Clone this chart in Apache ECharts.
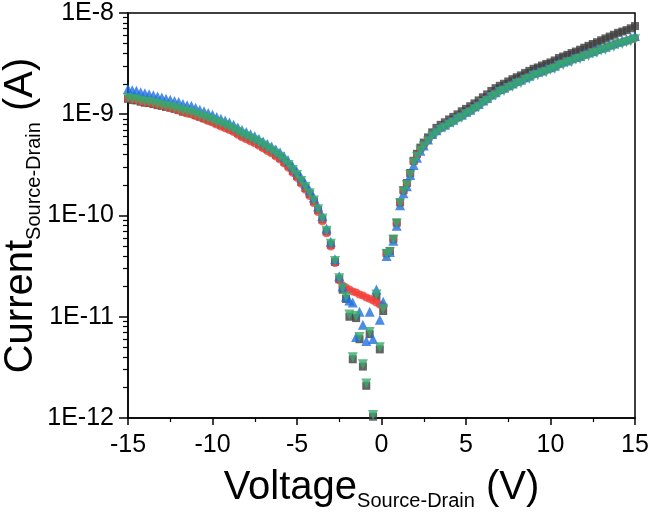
<!DOCTYPE html>
<html>
<head>
<meta charset="utf-8">
<script src="https://cdn.jsdelivr.net/npm/echarts@6/dist/echarts.min.js"></script>
<style>
html,body{margin:0;padding:0;background:#fff;}
#chart{width:650px;height:512px;}
</style>
</head>
<body>
<div id="chart"></div>
<script>
// Source-drain voltage sweep (V)
const voltage = [
-15,-14.75,-14.5,-14.25,-14,-13.75,-13.5,-13.25,-13,-12.75,-12.5,-12.25,-12,-11.75,-11.5,-11.25,-11,-10.75,-10.5,-10.25,
-10,-9.75,-9.5,-9.25,-9,-8.75,-8.5,-8.25,-8,-7.75,-7.5,-7.25,-7,-6.75,-6.5,-6.25,-6,-5.75,-5.5,-5.25,
-5,-4.75,-4.5,-4.25,-4,-3.75,-3.5,-3.25,-3,-2.75,
-2.5,-2.3,-2.1,-1.9,-1.7,-1.5,-1.3,-1.1,-0.9,-0.7,-0.5,-0.3,-0.1,0.1,0.3,0.5,0.7,0.9,1.1,1.3,1.5,1.7,1.9,2.1,2.3,2.5,
2.75,3,3.25,3.5,3.75,4,4.25,4.5,4.75,5,5.25,5.5,5.75,6,6.25,6.5,6.75,7,7.25,7.5,
7.75,8,8.25,8.5,8.75,9,9.25,9.5,9.75,10,10.25,10.5,10.75,11,11.25,11.5,11.75,12,12.25,12.5,
12.75,13,13.25,13.5,13.75,14,14.25,14.5,14.75,15
];

// Current (A) — black squares
const blackI = [
1.42e-9,1.38e-9,1.37e-9,1.33e-9,1.30e-9,1.29e-9,1.26e-9,1.23e-9,1.21e-9,1.18e-9,1.16e-9,1.13e-9,1.10e-9,1.06e-9,1.04e-9,1.02e-9,9.80e-10,9.47e-10,9.14e-10,8.84e-10,
8.54e-10,8.15e-10,7.88e-10,7.60e-10,7.26e-10,6.94e-10,6.55e-10,6.18e-10,5.91e-10,5.64e-10,5.39e-10,5.09e-10,4.80e-10,4.53e-10,4.28e-10,3.99e-10,3.72e-10,3.40e-10,3.10e-10,2.76e-10,
2.46e-10,2.15e-10,1.87e-10,1.63e-10,1.38e-10,1.13e-10,9.14e-11,6.94e-11,5.15e-11,3.48e-11,
2.35e-11,1.85e-11,1.50e-11,1.00e-11,3.80e-12,9.70e-12,6.00e-12,3.22e-12,2.08e-12,6.73e-12,1.03e-12,1.58e-11,4.76e-12,1.14e-11,4.27e-11,4.47e-11,5.89e-11,8.51e-11,1.35e-10,1.78e-10,2.09e-10,2.63e-10,3.47e-10,4.07e-10,4.68e-10,5.25e-10,
5.91e-10,6.63e-10,7.34e-10,7.86e-10,8.33e-10,8.89e-10,9.42e-10,9.98e-10,1.07e-9,1.13e-9,1.20e-9,1.28e-9,1.37e-9,1.47e-9,1.57e-9,1.70e-9,1.81e-9,1.91e-9,2.00e-9,2.11e-9,
2.22e-9,2.32e-9,2.42e-9,2.56e-9,2.68e-9,2.81e-9,2.90e-9,3.03e-9,3.14e-9,3.25e-9,3.40e-9,3.59e-9,3.72e-9,3.86e-9,4.02e-9,4.16e-9,4.34e-9,4.54e-9,4.74e-9,4.94e-9,
5.15e-9,5.38e-9,5.61e-9,5.85e-9,6.10e-9,6.37e-9,6.56e-9,6.77e-9,7.06e-9,7.43e-9
];

// Current (A) — red circles
const redI = [
1.44e-9,1.40e-9,1.38e-9,1.34e-9,1.31e-9,1.30e-9,1.27e-9,1.24e-9,1.21e-9,1.18e-9,1.15e-9,1.12e-9,1.09e-9,1.05e-9,1.02e-9,9.99e-10,9.60e-10,9.27e-10,8.96e-10,8.57e-10,
8.27e-10,7.90e-10,7.56e-10,7.29e-10,6.97e-10,6.66e-10,6.28e-10,5.93e-10,5.67e-10,5.41e-10,5.17e-10,4.88e-10,4.61e-10,4.34e-10,4.11e-10,3.83e-10,3.57e-10,3.26e-10,2.97e-10,2.65e-10,
2.36e-10,2.06e-10,1.80e-10,1.56e-10,1.33e-10,1.08e-10,8.77e-11,6.66e-11,4.94e-11,3.40e-11,
2.29e-11,2.04e-11,1.93e-11,1.86e-11,1.78e-11,1.74e-11,1.66e-11,1.62e-11,1.55e-11,1.51e-11,1.45e-11,1.38e-11,1.32e-11,1.26e-11,4.17e-11,4.47e-11,5.75e-11,8.32e-11,1.32e-10,1.74e-10,2.04e-10,2.57e-10,3.39e-10,3.89e-10,4.47e-10,4.90e-10,
5.53e-10,6.21e-10,6.81e-10,7.29e-10,7.73e-10,8.18e-10,8.66e-10,9.18e-10,9.72e-10,1.03e-9,1.09e-9,1.15e-9,1.24e-9,1.33e-9,1.42e-9,1.52e-9,1.62e-9,1.71e-9,1.79e-9,1.87e-9,
1.97e-9,2.06e-9,2.15e-9,2.26e-9,2.36e-9,2.47e-9,2.55e-9,2.65e-9,2.74e-9,2.83e-9,2.97e-9,3.11e-9,3.22e-9,3.34e-9,3.45e-9,3.57e-9,3.70e-9,3.83e-9,3.97e-9,4.10e-9,
4.24e-9,4.40e-9,4.55e-9,4.71e-9,4.87e-9,5.05e-9,5.16e-9,5.28e-9,5.47e-9,5.67e-9
];

// Current (A) — blue triangles
const blueI = [
1.78e-9,1.73e-9,1.71e-9,1.65e-9,1.61e-9,1.58e-9,1.54e-9,1.50e-9,1.46e-9,1.42e-9,1.39e-9,1.35e-9,1.32e-9,1.26e-9,1.23e-9,1.21e-9,1.16e-9,1.11e-9,1.07e-9,1.03e-9,
9.89e-10,9.40e-10,9.05e-10,8.69e-10,8.30e-10,7.89e-10,7.41e-10,7.00e-10,6.66e-10,6.35e-10,6.05e-10,5.71e-10,5.39e-10,5.08e-10,4.81e-10,4.48e-10,4.18e-10,3.80e-10,3.44e-10,3.07e-10,
2.72e-10,2.37e-10,2.06e-10,1.78e-10,1.51e-10,1.23e-10,9.89e-11,7.43e-11,5.51e-11,3.69e-11,
2.51e-11,2.00e-11,1.58e-11,1.45e-11,1.38e-11,6.31e-12,1.12e-11,8.32e-12,5.75e-12,1.12e-11,6.03e-12,1.86e-11,9.33e-12,1.41e-11,3.98e-11,4.37e-11,5.62e-11,7.94e-11,1.26e-10,1.66e-10,1.95e-10,2.51e-10,3.16e-10,3.72e-10,4.37e-10,4.90e-10,
5.64e-10,6.39e-10,6.94e-10,7.58e-10,7.88e-10,8.42e-10,8.83e-10,9.53e-10,9.91e-10,1.06e-9,1.11e-9,1.20e-9,1.26e-9,1.37e-9,1.45e-9,1.57e-9,1.65e-9,1.78e-9,1.83e-9,1.93e-9,
2.01e-9,2.14e-9,2.19e-9,2.32e-9,2.40e-9,2.57e-9,2.63e-9,2.70e-9,2.85e-9,2.92e-9,3.02e-9,3.23e-9,3.32e-9,3.40e-9,3.58e-9,3.68e-9,3.77e-9,3.98e-9,4.08e-9,4.18e-9,
4.41e-9,4.53e-9,4.64e-9,4.89e-9,5.01e-9,5.19e-9,5.36e-9,5.49e-9,5.73e-9,5.94e-9
];

// Current (A) — green inverted triangles
const greenI = [
1.45e-9,1.41e-9,1.40e-9,1.36e-9,1.33e-9,1.32e-9,1.29e-9,1.26e-9,1.23e-9,1.20e-9,1.18e-9,1.15e-9,1.12e-9,1.08e-9,1.06e-9,1.04e-9,1.00e-9,9.66e-10,9.33e-10,9.02e-10,
8.71e-10,8.32e-10,8.04e-10,7.76e-10,7.41e-10,7.08e-10,6.68e-10,6.31e-10,6.03e-10,5.75e-10,5.50e-10,5.19e-10,4.90e-10,4.62e-10,4.37e-10,4.07e-10,3.80e-10,3.47e-10,3.16e-10,2.82e-10,
2.51e-10,2.19e-10,1.91e-10,1.66e-10,1.41e-10,1.15e-10,9.33e-11,7.08e-11,5.25e-11,3.55e-11,
2.40e-11,1.91e-11,1.58e-11,1.05e-11,3.98e-12,1.02e-11,6.31e-12,3.39e-12,2.19e-12,7.08e-12,1.07e-12,1.66e-11,5.01e-12,1.20e-11,4.17e-11,4.37e-11,5.75e-11,8.32e-11,1.32e-10,1.74e-10,2.00e-10,2.51e-10,3.31e-10,3.80e-10,4.37e-10,4.79e-10,
5.37e-10,6.03e-10,6.50e-10,7.08e-10,7.35e-10,7.94e-10,8.25e-10,8.91e-10,9.25e-10,1.00e-9,1.04e-9,1.12e-9,1.17e-9,1.29e-9,1.35e-9,1.48e-9,1.53e-9,1.66e-9,1.70e-9,1.82e-9,
1.87e-9,2.00e-9,2.04e-9,2.19e-9,2.24e-9,2.40e-9,2.43e-9,2.57e-9,2.60e-9,2.75e-9,2.82e-9,3.02e-9,3.07e-9,3.24e-9,3.28e-9,3.47e-9,3.52e-9,3.72e-9,3.77e-9,3.98e-9,
4.04e-9,4.27e-9,4.33e-9,4.57e-9,4.64e-9,4.90e-9,4.95e-9,5.13e-9,5.25e-9,5.50e-9
];

// Axis ticks
const xMin = -15, xMax = 15, xStep = 5;
const yTickLabels = ['1E-12','1E-11','1E-10','1E-9','1E-8'];
const yDecades = [-12,-11,-10,-9];
const yMinorMultipliers = [2,3,4,5,6,7,8,9];

const FONT = 'Liberation Sans, Arial, sans-serif';
const minorTickPos = [];
yDecades.forEach(d => yMinorMultipliers.forEach(m => minorTickPos.push(d + Math.log10(m))));

const pairs = arr => voltage.map((v, i) => [v, arr[i]]);

const titleRich = {
  m: {fontSize: 40, fontFamily: FONT, color: '#000'},
  s: {fontSize: 20, fontFamily: FONT, color: '#000', padding: [26, 0, 0, 0]}
};

const chart = echarts.init(document.getElementById('chart'), null, {renderer: 'canvas'});
chart.setOption({
  animation: false,
  backgroundColor: '#fff',
  grid: {left: 128, right: 15, top: 13, bottom: 94, show: true, borderColor: '#000', borderWidth: 1.5,
    containLabel: false, outerBoundsMode: 'none'},
  xAxis: {
    type: 'value', min: xMin, max: xMax, interval: xStep,
    axisLine: {show: true, onZero: false, lineStyle: {color: '#000', width: 1.5}},
    axisTick: {show: true, length: 7, lineStyle: {color: '#000', width: 1.5}},
    minorTick: {show: true, splitNumber: 2, length: 4, lineStyle: {color: '#000', width: 1.2}},
    splitLine: {show: false},
    axisLabel: {fontSize: 25, color: '#000', fontFamily: FONT, margin: 15},
    name: '{m|Voltage}{s|Source-Drain}{m| (V)}',
    nameLocation: 'middle', nameGap: 47,
    nameTextStyle: {rich: titleRich}
  },
  yAxis: [{
    type: 'log', logBase: 10, min: 1e-12, max: 1e-8,
    axisLine: {show: true, onZero: false, lineStyle: {color: '#000', width: 1.5}},
    axisTick: {show: true, length: 9, lineStyle: {color: '#000', width: 1.5}},
    splitLine: {show: false},
    axisLabel: {fontSize: 25, color: '#000', fontFamily: FONT, margin: 14,
      formatter: (v, i) => yTickLabels[i]},
    name: '{m|Current}{s|Source-Drain}{m| (A)}',
    nameLocation: 'middle', nameGap: 84, nameMoveOverlap: false,
    nameTextStyle: {rich: titleRich}
  }, {
    type: 'value', min: -12, max: -8, position: 'left', offset: 0,
    axisLine: {show: false, onZero: false},
    axisLabel: {show: false},
    splitLine: {show: false},
    axisTick: {show: true, length: 5, customValues: minorTickPos, lineStyle: {color: '#000', width: 1.2}}
  }],
  series: [
    {name: 'black', type: 'scatter', data: pairs(blackI), symbol: 'rect', symbolSize: 8,
      itemStyle: {color: '#3d3d3d'}, clip: false},
    {name: 'red', type: 'scatter', data: pairs(redI), symbol: 'circle', symbolSize: 8,
      itemStyle: {color: '#f23d38'}, clip: false},
    {name: 'blue', type: 'scatter', data: pairs(blueI), symbol: 'triangle', symbolSize: 10,
      itemStyle: {color: '#1f6fe0'}, clip: false},
    {name: 'green', type: 'scatter', data: pairs(greenI), symbol: 'triangle', symbolRotate: 180, symbolSize: 10,
      itemStyle: {color: '#38a96c'}, clip: false}
  ]
});
</script>
</body>
</html>
